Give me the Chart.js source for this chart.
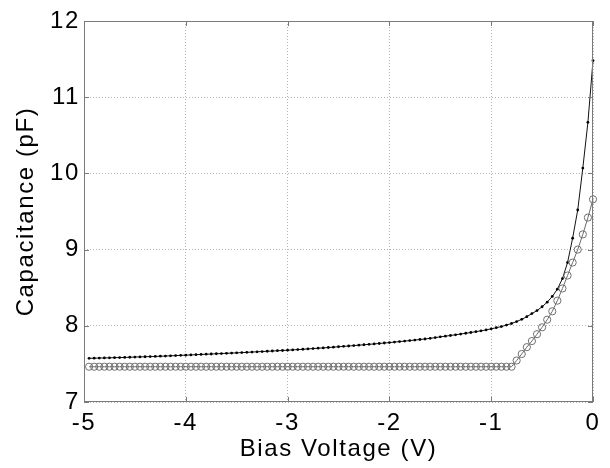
<!DOCTYPE html>
<html>
<head>
<meta charset="utf-8">
<script src="https://cdn.jsdelivr.net/npm/chart.js@4"></script>
<style>
  body { margin: 0; background: #fff; }
  #wrap { width: 610px; height: 468px; }
</style>
</head>
<body>
<div id="wrap"><canvas id="cvChart" width="610" height="468"></canvas></div>
<script>
// bias voltage (V), step 0.05
const voltage = [
  -4.95, -4.90, -4.85, -4.80, -4.75, -4.70, -4.65, -4.60, -4.55, -4.50,
  -4.45, -4.40, -4.35, -4.30, -4.25, -4.20, -4.15, -4.10, -4.05, -4.00,
  -3.95, -3.90, -3.85, -3.80, -3.75, -3.70, -3.65, -3.60, -3.55, -3.50,
  -3.45, -3.40, -3.35, -3.30, -3.25, -3.20, -3.15, -3.10, -3.05, -3.00,
  -2.95, -2.90, -2.85, -2.80, -2.75, -2.70, -2.65, -2.60, -2.55, -2.50,
  -2.45, -2.40, -2.35, -2.30, -2.25, -2.20, -2.15, -2.10, -2.05, -2.00,
  -1.95, -1.90, -1.85, -1.80, -1.75, -1.70, -1.65, -1.60, -1.55, -1.50,
  -1.45, -1.40, -1.35, -1.30, -1.25, -1.20, -1.15, -1.10, -1.05, -1.00,
  -0.95, -0.90, -0.85, -0.80, -0.75, -0.70, -0.65, -0.60, -0.55, -0.50,
  -0.45, -0.40, -0.35, -0.30, -0.25, -0.20, -0.15, -0.10, -0.05, 0.00
];

// capacitance (pF), dotted curve
const capDots = [
  7.573, 7.575, 7.577, 7.578, 7.580, 7.582, 7.583, 7.585, 7.587, 7.590,
  7.592, 7.594, 7.596, 7.598, 7.601, 7.603, 7.606, 7.609, 7.612, 7.615,
  7.618, 7.621, 7.624, 7.627, 7.630, 7.633, 7.636, 7.639, 7.642, 7.645,
  7.648, 7.652, 7.655, 7.659, 7.662, 7.666, 7.669, 7.673, 7.676, 7.680,
  7.684, 7.688, 7.692, 7.697, 7.701, 7.706, 7.710, 7.715, 7.720, 7.725,
  7.730, 7.735, 7.740, 7.746, 7.751, 7.757, 7.762, 7.768, 7.774, 7.780,
  7.786, 7.793, 7.799, 7.806, 7.813, 7.820, 7.827, 7.835, 7.845, 7.855,
  7.864, 7.873, 7.882, 7.892, 7.902, 7.912, 7.923, 7.934, 7.946, 7.960,
  7.975, 7.990, 8.010, 8.030, 8.055, 8.085, 8.120, 8.160, 8.200, 8.250,
  8.310, 8.385, 8.480, 8.620, 8.830, 9.150, 9.520, 10.070, 10.670, 11.480
];

// capacitance (pF), circle curve
const capCircles = [
  7.463, 7.463, 7.463, 7.463, 7.463, 7.463, 7.463, 7.463, 7.463, 7.463,
  7.463, 7.463, 7.463, 7.463, 7.463, 7.463, 7.463, 7.463, 7.463, 7.463,
  7.463, 7.463, 7.463, 7.463, 7.463, 7.463, 7.463, 7.463, 7.463, 7.463,
  7.463, 7.463, 7.463, 7.463, 7.463, 7.463, 7.463, 7.463, 7.463, 7.463,
  7.463, 7.463, 7.463, 7.463, 7.463, 7.463, 7.463, 7.463, 7.463, 7.463,
  7.463, 7.463, 7.463, 7.463, 7.463, 7.463, 7.463, 7.463, 7.463, 7.463,
  7.463, 7.463, 7.463, 7.463, 7.463, 7.463, 7.463, 7.463, 7.463, 7.463,
  7.463, 7.463, 7.463, 7.463, 7.463, 7.463, 7.463, 7.463, 7.463, 7.463,
  7.463, 7.463, 7.463, 7.463, 7.545, 7.630, 7.720, 7.800, 7.890, 7.980,
  8.080, 8.190, 8.330, 8.490, 8.660, 8.830, 9.000, 9.200, 9.420, 9.660
];

const xTicks = [-5, -4, -3, -2, -1, 0];
const yTicks = [7, 8, 9, 10, 11, 12];

const toPoints = (ys) => voltage.map((v, i) => ({ x: v, y: ys[i] }));

// box round the plot + inward ticks on all four sides
const boxPlugin = {
  id: "box",
  beforeDraw(chart) {
    // the original lettering is a bit wider than Liberation Sans
    chart.ctx.letterSpacing = "1.6px";
  },
  afterDraw(chart) {
    const { ctx, chartArea: a, scales } = chart;
    ctx.save();
    ctx.strokeStyle = "#7a7a7a";
    ctx.lineWidth = 1;
    ctx.strokeRect(a.left + 0.5, a.top + 0.5, a.right - a.left - 1, a.bottom - a.top - 1);
    ctx.beginPath();
    xTicks.forEach(t => {
      const px = Math.round(scales.x.getPixelForValue(t)) + 0.5;
      ctx.moveTo(px, a.bottom); ctx.lineTo(px, a.bottom - 5);
      ctx.moveTo(px, a.top); ctx.lineTo(px, a.top + 5);
    });
    yTicks.forEach(t => {
      const py = Math.round(scales.y.getPixelForValue(t)) + 0.5;
      ctx.moveTo(a.left, py); ctx.lineTo(a.left + 5, py);
      ctx.moveTo(a.right, py); ctx.lineTo(a.right - 5, py);
    });
    ctx.stroke();
    ctx.restore();
  }
};

const font = "'Liberation Sans', Arial, sans-serif";

new Chart(document.getElementById("cvChart"), {
  type: "scatter",
  data: {
    datasets: [
      {
        data: toPoints(capCircles),
        showLine: true,
        borderColor: "#6a6a6a",
        borderWidth: 1,
        pointStyle: "circle",
        pointRadius: 3.6,
        pointBorderWidth: 1,
        pointBorderColor: "#707070",
        pointBackgroundColor: "rgba(0,0,0,0)",
        clip: false
      },
      {
        data: toPoints(capDots),
        showLine: true,
        borderColor: "#111",
        borderWidth: 1,
        pointRadius: 1.4,
        pointBorderWidth: 0,
        pointBackgroundColor: "#000",
        clip: false
      }
    ]
  },
  options: {
    responsive: false,
    animation: false,
    layout: { padding: { left: 0, right: 17, top: 21, bottom: 0 } },
    plugins: { legend: { display: false }, tooltip: { enabled: false } },
    elements: { line: { tension: 0 } },
    scales: {
      x: {
        type: "linear",
        min: -5, max: 0,
        afterBuildTicks: (s) => { s.ticks = xTicks.map(v => ({ value: v })); },
        afterFit: (s) => { s.height = 66; },
        ticks: { color: "#000", font: { family: font, size: 24 }, padding: 7, maxRotation: 0 },
        grid: { color: "#b4b4b4", lineWidth: 1, drawTicks: false },
        border: { display: false, dash: [1, 2] },
        title: { display: true, text: "Bias Voltage (V)", color: "#000",
                 font: { family: font, size: 24 }, padding: { top: 0, bottom: 4 } }
      },
      y: {
        min: 7, max: 12,
        afterBuildTicks: (s) => { s.ticks = yTicks.map(v => ({ value: v })); },
        afterFit: (s) => { s.width = 84; },
        ticks: { color: "#000", font: { family: font, size: 24 }, padding: 4 },
        grid: { color: "#b4b4b4", lineWidth: 1, drawTicks: false },
        border: { display: false, dash: [1, 2] },
        title: { display: true, text: "Capacitance (pF)", color: "#000",
                 font: { family: font, size: 24 }, padding: { top: 12, bottom: 0 } }
      }
    }
  },
  plugins: [boxPlugin]
});
</script>
</body>
</html>
